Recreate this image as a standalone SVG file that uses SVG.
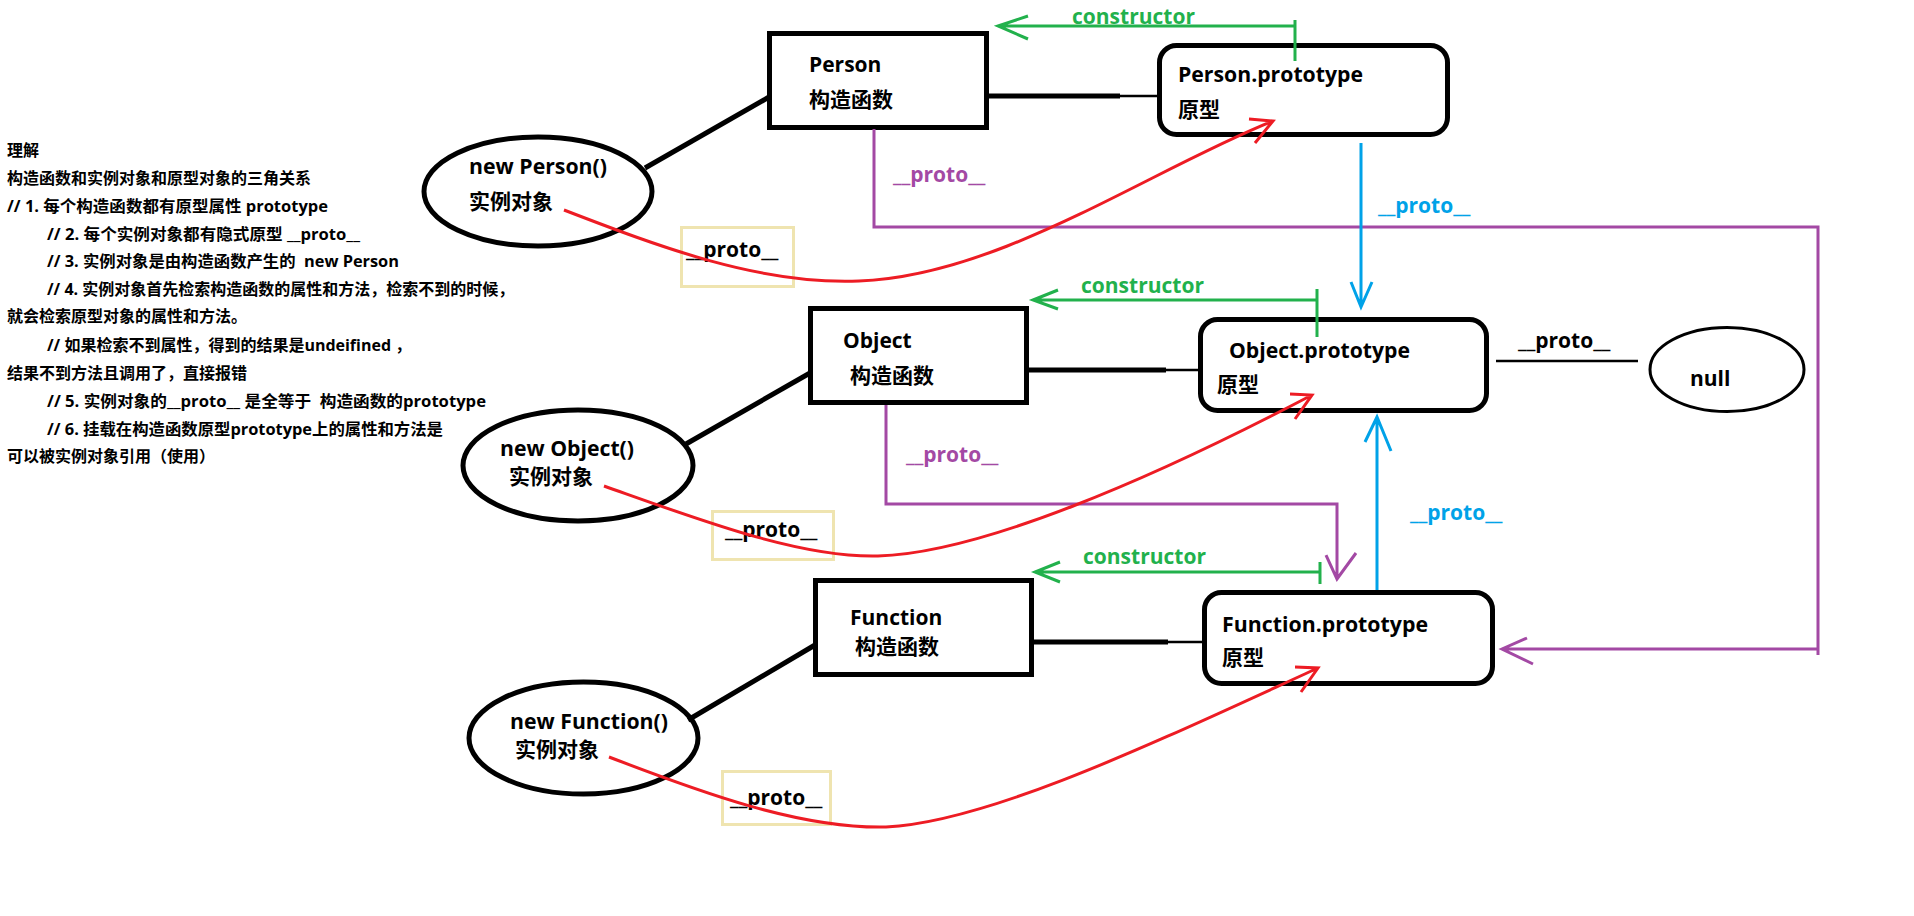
<svg xmlns="http://www.w3.org/2000/svg" width="1914" height="916" viewBox="0 0 1914 916">
  <style>
    text { font-family: "Open Sans", "Noto Sans CJK SC", sans-serif; font-weight: 700; fill: #000; white-space: pre; }
    .note { font-size: 16px; }
    .lbl { font-size: 21px; }
    .box { fill: #fff; stroke: #000; stroke-width: 5; }
    .inst { fill: #fff; stroke: #000; stroke-width: 5; }
    .tag { fill: none; stroke: #efe4b0; stroke-width: 3; }
    .link { stroke: #000; stroke-width: 5; fill: none; }
    .thin { stroke: #000; stroke-width: 2.5; fill: none; }
    .ctor { stroke: #22b14c; stroke-width: 3; fill: none; }
    .ctor-t { fill: #22b14c; }
    .pur { stroke: #a349a4; stroke-width: 3; fill: none; }
    .pur-t { fill: #a349a4; }
    .blu { stroke: #00a2e8; stroke-width: 3; fill: none; }
    .blu-t { fill: #00a2e8; }
    .red { stroke: #ed1c24; stroke-width: 3; fill: none; }
  </style>

  <rect width="1914" height="916" fill="#fff"/>

  <!-- notes -->
  <g id="notes" class="note">
    <text x="7" y="156">理解</text>
    <text x="7" y="184">构造函数和实例对象和原型对象的三角关系</text>
    <text x="7" y="212" textLength="321" lengthAdjust="spacingAndGlyphs">// 1. 每个构造函数都有原型属性 prototype</text>
    <text x="47" y="240" textLength="313" lengthAdjust="spacingAndGlyphs">// 2. 每个实例对象都有隐式原型 __proto__</text>
    <text x="47" y="267" textLength="352" lengthAdjust="spacingAndGlyphs">// 3. 实例对象是由构造函数产生的  new Person</text>
    <text x="47" y="295">// 4. 实例对象首先检索构造函数的属性和方法，检索不到的时候，</text>
    <text x="7" y="322">就会检索原型对象的属性和方法。</text>
    <text x="47" y="351">// 如果检索不到属性，得到的结果是undeifined ，</text>
    <text x="7" y="379">结果不到方法且调用了，直接报错</text>
    <text x="47" y="407" textLength="439" lengthAdjust="spacingAndGlyphs">// 5. 实例对象的__proto__ 是全等于  构造函数的prototype</text>
    <text x="47" y="435" textLength="396" lengthAdjust="spacingAndGlyphs">// 6. 挂载在构造函数原型prototype上的属性和方法是</text>
    <text x="7" y="462">可以被实例对象引用（使用）</text>
  </g>

  <!-- __proto__ tags on the instance links -->
  <g id="tag-person">
    <rect class="tag" x="681.5" y="227.5" width="112" height="59"/>
    <text class="lbl" x="686" y="257">__proto__</text>
  </g>
  <g id="tag-object">
    <rect class="tag" x="712.5" y="511.5" width="121" height="48"/>
    <text class="lbl" x="725" y="537">__proto__</text>
  </g>
  <g id="tag-function">
    <rect class="tag" x="722.5" y="771.5" width="108" height="53"/>
    <text class="lbl" x="730" y="805">__proto__</text>
  </g>

  <!-- constructors -->
  <g id="person">
    <rect class="box" x="769.5" y="33.5" width="217" height="94"/>
    <text class="lbl" x="809" y="72">Person</text>
    <text class="lbl" x="809" y="107">构造函数</text>
  </g>
  <g id="object">
    <rect class="box" x="810.5" y="308.5" width="216" height="94"/>
    <text class="lbl" x="843" y="348">Object</text>
    <text class="lbl" x="850" y="383">构造函数</text>
  </g>
  <g id="function">
    <rect class="box" x="815.5" y="580.5" width="216" height="94"/>
    <text class="lbl" x="850" y="625">Function</text>
    <text class="lbl" x="855" y="654">构造函数</text>
  </g>

  <!-- prototypes -->
  <g id="person-prototype">
    <rect class="box" x="1159.5" y="45.5" width="288" height="89" rx="17"/>
    <text class="lbl" x="1178" y="82" textLength="185" lengthAdjust="spacingAndGlyphs">Person.prototype</text>
    <text class="lbl" x="1178" y="117">原型</text>
  </g>
  <g id="object-prototype">
    <rect class="box" x="1200.5" y="319.5" width="286" height="91" rx="17"/>
    <text class="lbl" x="1229" y="358" textLength="181" lengthAdjust="spacingAndGlyphs">Object.prototype</text>
    <text class="lbl" x="1217" y="392">原型</text>
  </g>
  <g id="function-prototype">
    <rect class="box" x="1204.5" y="592.5" width="288" height="91" rx="17"/>
    <text class="lbl" x="1222" y="632" textLength="206" lengthAdjust="spacingAndGlyphs">Function.prototype</text>
    <text class="lbl" x="1222" y="665">原型</text>
  </g>

  <!-- instances -->
  <g id="person-instance">
    <ellipse class="inst" cx="538" cy="191.5" rx="114" ry="54.5"/>
    <text class="lbl" x="469" y="174" textLength="138" lengthAdjust="spacingAndGlyphs">new Person()</text>
    <text class="lbl" x="469" y="209">实例对象</text>
  </g>
  <g id="object-instance">
    <ellipse class="inst" cx="578" cy="465.5" rx="115" ry="55.5"/>
    <text class="lbl" x="500" y="456" textLength="134" lengthAdjust="spacingAndGlyphs">new Object()</text>
    <text class="lbl" x="509" y="484">实例对象</text>
  </g>
  <g id="function-instance">
    <ellipse class="inst" cx="583.5" cy="738" rx="114.5" ry="56"/>
    <text class="lbl" x="510" y="729" textLength="158" lengthAdjust="spacingAndGlyphs">new Function()</text>
    <text class="lbl" x="515" y="757">实例对象</text>
  </g>

  <g id="null">
    <ellipse cx="1727" cy="369.5" rx="77" ry="42" fill="#fff" stroke="#000" stroke-width="3"/>
    <text class="lbl" x="1690" y="386">null</text>
  </g>

  <!-- connectors -->
  <g id="connectors">
    <!-- instance to constructor -->
    <line class="link" x1="645" y1="168" x2="769" y2="97"/>
    <line class="link" x1="686" y1="444" x2="810" y2="373"/>
    <line class="link" x1="688" y1="720" x2="815" y2="645"/>

    <!-- constructor to prototype -->
    <line class="link" x1="988" y1="96" x2="1120" y2="96" stroke-width="4"/>
    <line class="thin" x1="1120" y1="96" x2="1159" y2="96"/>
    <line class="link" x1="1028" y1="370" x2="1166" y2="370" stroke-width="4"/>
    <line class="thin" x1="1166" y1="370" x2="1201" y2="370"/>
    <line class="link" x1="1033" y1="642" x2="1168" y2="642" stroke-width="4"/>
    <line class="thin" x1="1168" y1="642" x2="1206" y2="642"/>

    <!-- prototype.constructor back to constructor -->
    <path class="ctor" d="M1295,26 H998 M1028,16 L998,26 L1028,39 M1295,20 V61"/>
    <text class="lbl ctor-t" x="1072" y="24">constructor</text>
    <path class="ctor" d="M1317,300 H1033 M1058,290 L1033,300 L1058,309 M1317,289 V337"/>
    <text class="lbl ctor-t" x="1081" y="293">constructor</text>
    <path class="ctor" d="M1320,572 H1035 M1060,562 L1035,572 L1060,582 M1320,562 V584"/>
    <text class="lbl ctor-t" x="1083" y="564">constructor</text>

    <!-- constructors' own __proto__ -->
    <path class="pur" d="M874,129 V227 H1818 V655 M1818,649 H1502 M1527,638 L1502,649 L1533,664"/>
    <text class="lbl pur-t" x="893" y="182">__proto__</text>
    <path class="pur" d="M886,405 V504 H1337 V578 M1326,555 L1337,579 L1356,553"/>
    <text class="lbl pur-t" x="906" y="462">__proto__</text>

    <!-- prototype chain -->
    <path class="blu" d="M1361,143 V306 M1351,282 L1361,307 L1372,282"/>
    <text class="lbl blu-t" x="1378" y="213">__proto__</text>
    <path class="blu" d="M1377,590 V418 M1365,442 L1377,417 L1391,451"/>
    <text class="lbl blu-t" x="1410" y="520">__proto__</text>

    <line class="thin" x1="1496" y1="361" x2="1638" y2="361" stroke-width="3"/>
    <text class="lbl" x="1518" y="348">__proto__</text>

    <!-- instance __proto__ to prototype -->
    <path class="red" d="M564,210 C660,247 760,285 859,281 C1000,276 1150,170 1273,121 M1249,119 L1273,121 L1255,143"/>
    <path class="red" d="M604,486 C700,520 800,558 878,556 C980,553 1150,480 1312,395 M1290,394 L1312,395 L1295,419"/>
    <path class="red" d="M609,757 C700,792 800,829 886,827 C990,822 1160,740 1318,668 M1295,667 L1318,668 L1301,692"/>
  </g>
</svg>
